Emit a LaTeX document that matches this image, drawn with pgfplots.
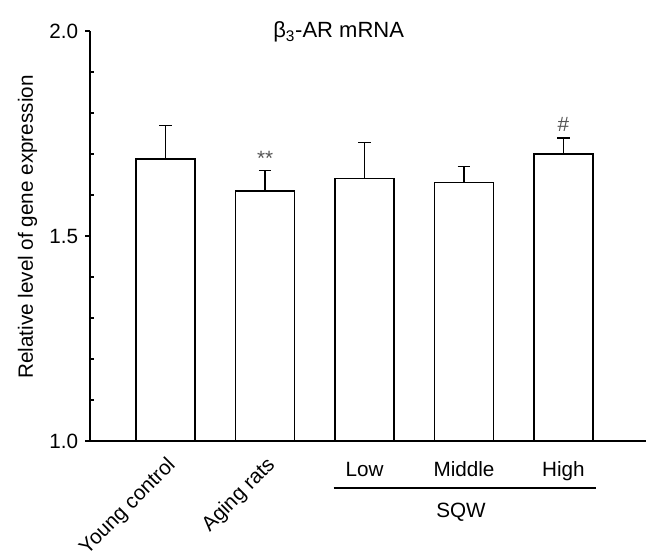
\documentclass[border=0pt]{standalone}
\usepackage{fontspec}
\setmainfont{Liberation Sans}
\usepackage{pgfplots}
\pgfplotsset{compat=1.18}
\definecolor{starcol}{RGB}{85,85,85}

\begin{document}
\fontsize{15.5pt}{18pt}\selectfont
\begin{tikzpicture}
% page = 646x560 px at 0.75pt/px, axis box from (90,441) to (646,31)
\useasboundingbox (-67.5pt,-89.25pt) rectangle (417pt,330.75pt);
\begin{axis}[
    at={(0,0)}, anchor=south west,
    scale only axis, width=417pt, height=307.5pt,
    xmin=-0.76, xmax=4.83, ymin=1, ymax=2,
    axis x line*=bottom, axis y line*=left,
    axis line style={line width=1pt, black},
    clip mode=individual,
    ytick={1,1.5,2},
    minor ytick={1.1,1.2,1.3,1.4,1.6,1.7,1.8,1.9},
    yticklabel style={/pgf/number format/.cd, fixed, fixed zerofill, precision=1},
    /pgf/number format/assume math mode=true,
    tick align=outside,
    major tick length=3.5pt, minor tick length=-3pt,
    tick style={line width=0.8pt, black},
    xtick={0,1}, xticklabels={Young control, Aging rats},
    x tick style={draw=none},
    xticklabel style={rotate=45, anchor=north east},
    ybar, bar width=44.25pt, bar shift=0pt,
    error bars/y dir=plus, error bars/y explicit,
    error bars/error bar style={line width=0.9pt, black},
    error bars/error mark options={rotate=90, mark size=4.7pt, line width=0.9pt, black},
]
\addplot[fill=white, draw=black, line width=1.3pt] coordinates {
    (0,1.688) +- (0,0.081)
    (1,1.610) +- (0,0.049)
    (2,1.640) +- (0,0.089)
};
\addplot[fill=white, draw=black, line width=0.9pt] coordinates {
    (3,1.631) +- (0,0.039)
    (4,1.700) +- (0,0.039)
};
\node[anchor=base, text=starcol] at (axis cs:1,1.671) {**};
\node[anchor=base, text=starcol] at (axis cs:4,1.756) {\#};
% SQW dose groups
\node[anchor=base, yshift=-27pt] at (axis cs:2,1) {Low};
\node[anchor=base, yshift=-27pt] at (axis cs:3,1) {Middle};
\node[anchor=base, yshift=-27pt] at (axis cs:4,1) {High};
\draw[line width=1pt] ([yshift=-35.25pt]axis cs:1.69,1) -- ([yshift=-35.25pt]axis cs:4.33,1);
\node[anchor=base, yshift=-57pt] at (axis cs:2.97,1) {SQW};
\node[anchor=base, font=\fontsize{16.5pt}{19pt}\selectfont] at ([yshift=-5.25pt]axis cs:1.74,2) {β\textsubscript{3}-AR mRNA};
\end{axis}
\node[anchor=base, rotate=90] at (-42.75pt,160.5pt) {Relative level of gene expression};
\end{tikzpicture}
\end{document}
